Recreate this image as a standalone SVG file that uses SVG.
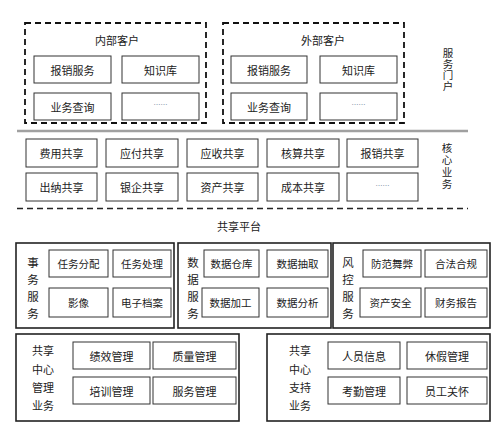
<svg xmlns="http://www.w3.org/2000/svg" width="500" height="425" viewBox="0 0 500 425">
<style>
text{font-family:"Noto Sans CJK SC","Liberation Sans",sans-serif;font-size:11px;fill:#222;text-anchor:middle;dominant-baseline:central}
.b{fill:#fff;stroke:#333;stroke-width:1}
.o{fill:#fff;stroke:#222;stroke-width:1.6}
.d{fill:none;stroke:#111;stroke-width:1.8;stroke-dasharray:6 4}
.s{font-size:10.5px}
.dots{font-size:7px;fill:#7a8ca0}
.v{font-size:11.5px}
.p{font-size:10.5px;writing-mode:vertical-rl;text-anchor:start}
</style>
<rect width="500" height="425" fill="#fff"/>
<g id="connectors">
<line x1="17" y1="131" x2="468" y2="131" stroke="#a0a0a0" stroke-width="2.5"/>
<line x1="17" y1="208.5" x2="468" y2="208.5" stroke="#222" stroke-width="1.3" stroke-dasharray="6 4"/>
</g>
<g id="internal">
<rect class="d" x="25" y="23" width="181" height="100"/>
<text x="117" y="40">内部客户</text>
<rect class="b" x="34" y="56" width="77" height="27"/><text x="72.5" y="69.5">报销服务</text>
<rect class="b" x="122" y="56" width="77" height="27"/><text x="160.5" y="69.5">知识库</text>
<rect class="b" x="34" y="93" width="77" height="27"/><text x="72.5" y="106.5">业务查询</text>
<rect class="b" x="122" y="93" width="77" height="27"/><text class="dots" x="160.5" y="104">……</text>
</g>
<g id="external">
<rect class="d" x="223" y="23" width="181" height="100"/>
<text x="323" y="40">外部客户</text>
<rect class="b" x="231" y="56" width="76" height="27"/><text x="269" y="69.5">报销服务</text>
<rect class="b" x="320" y="56" width="77" height="27"/><text x="358.5" y="69.5">知识库</text>
<rect class="b" x="231" y="93" width="76" height="27"/><text x="269" y="106.5">业务查询</text>
<rect class="b" x="320" y="93" width="77" height="27"/><text class="dots" x="358.5" y="104">……</text>
</g>
<g id="portal-label">
<text class="p" x="448" y="48" letter-spacing="0.5">服务门户</text>
</g>
<g id="core">
<rect class="b" x="26" y="139" width="71" height="28"/><text x="61.5" y="153">费用共享</text>
<rect class="b" x="106" y="139" width="72" height="28"/><text x="142" y="153">应付共享</text>
<rect class="b" x="187" y="139" width="71" height="28"/><text x="222.5" y="153">应收共享</text>
<rect class="b" x="267" y="139" width="72" height="28"/><text x="303" y="153">核算共享</text>
<rect class="b" x="347" y="139" width="71" height="28"/><text x="382.5" y="153">报销共享</text>
<rect class="b" x="26" y="173" width="71" height="28"/><text x="61.5" y="187">出纳共享</text>
<rect class="b" x="106" y="173" width="72" height="28"/><text x="142" y="187">银企共享</text>
<rect class="b" x="187" y="173" width="71" height="28"/><text x="222.5" y="187">资产共享</text>
<rect class="b" x="267" y="173" width="72" height="28"/><text x="303" y="187">成本共享</text>
<rect class="b" x="347" y="173" width="71" height="28"/><text class="dots" x="382.5" y="185">……</text>
</g>
<g id="core-label">
<text class="p" x="447" y="143" letter-spacing="1.3">核心业务</text>
</g>
<g id="platform-title"><text x="239" y="226">共享平台</text></g>
<g id="affairs">
<rect class="o" x="16" y="243" width="158" height="85"/>
<text class="v" x="33" y="262">事</text><text class="v" x="33" y="279">务</text><text class="v" x="33" y="296">服</text><text class="v" x="33" y="313">务</text>
<rect class="b" x="49" y="250" width="59" height="27"/><text class="s" x="78.5" y="263.5">任务分配</text>
<rect class="b" x="113" y="250" width="58" height="27"/><text class="s" x="142" y="263.5">任务处理</text>
<rect class="b" x="49" y="288" width="59" height="29"/><text class="s" x="78.5" y="302.5">影像</text>
<rect class="b" x="113" y="288" width="58" height="29"/><text class="s" x="142" y="302.5">电子档案</text>
</g>
<g id="data">
<rect class="o" x="178" y="243" width="153" height="85"/>
<text class="v" x="193" y="262">数</text><text class="v" x="193" y="279">据</text><text class="v" x="193" y="296">服</text><text class="v" x="193" y="313">务</text>
<rect class="b" x="204" y="250" width="55" height="27"/><text class="s" x="231.5" y="263.5">数据仓库</text>
<rect class="b" x="267" y="250" width="61" height="27"/><text class="s" x="297.5" y="263.5">数据抽取</text>
<rect class="b" x="202" y="288" width="57" height="29"/><text class="s" x="230.5" y="302.5">数据加工</text>
<rect class="b" x="267" y="288" width="61" height="29"/><text class="s" x="297.5" y="302.5">数据分析</text>
</g>
<g id="risk">
<rect class="o" x="333" y="243" width="157" height="85"/>
<text class="v" x="348" y="262">风</text><text class="v" x="348" y="279">控</text><text class="v" x="348" y="296">服</text><text class="v" x="348" y="313">务</text>
<rect class="b" x="363" y="250" width="58" height="27"/><text class="s" x="392" y="263.5">防范舞弊</text>
<rect class="b" x="425" y="250" width="62" height="27"/><text class="s" x="456" y="263.5">合法合规</text>
<rect class="b" x="360" y="288" width="61" height="29"/><text class="s" x="390.5" y="302.5">资产安全</text>
<rect class="b" x="425" y="288" width="62" height="29"/><text class="s" x="456" y="302.5">财务报告</text>
</g>
<g id="mgmt">
<rect class="o" x="16" y="334" width="223" height="87"/>
<text x="43" y="350">共享</text><text x="43" y="368.5">中心</text><text x="43" y="387">管理</text><text x="43" y="405">业务</text>
<rect class="b" x="73" y="342" width="77" height="27"/><text x="111.5" y="355.5">绩效管理</text>
<rect class="b" x="153" y="342" width="83" height="27"/><text x="194.5" y="355.5">质量管理</text>
<rect class="b" x="73" y="377" width="77" height="27"/><text x="111.5" y="390.5">培训管理</text>
<rect class="b" x="153" y="377" width="83" height="27"/><text x="194.5" y="390.5">服务管理</text>
</g>
<g id="support">
<rect class="o" x="267" y="334" width="223" height="87"/>
<text x="300" y="350">共享</text><text x="300" y="368.5">中心</text><text x="300" y="387">支持</text><text x="300" y="405">业务</text>
<rect class="b" x="328" y="342" width="72" height="27"/><text x="364" y="355.5">人员信息</text>
<rect class="b" x="407" y="342" width="80" height="27"/><text x="447" y="355.5">休假管理</text>
<rect class="b" x="328" y="377" width="72" height="27"/><text x="364" y="390.5">考勤管理</text>
<rect class="b" x="407" y="377" width="80" height="27"/><text x="447" y="390.5">员工关怀</text>
</g>
</svg>
